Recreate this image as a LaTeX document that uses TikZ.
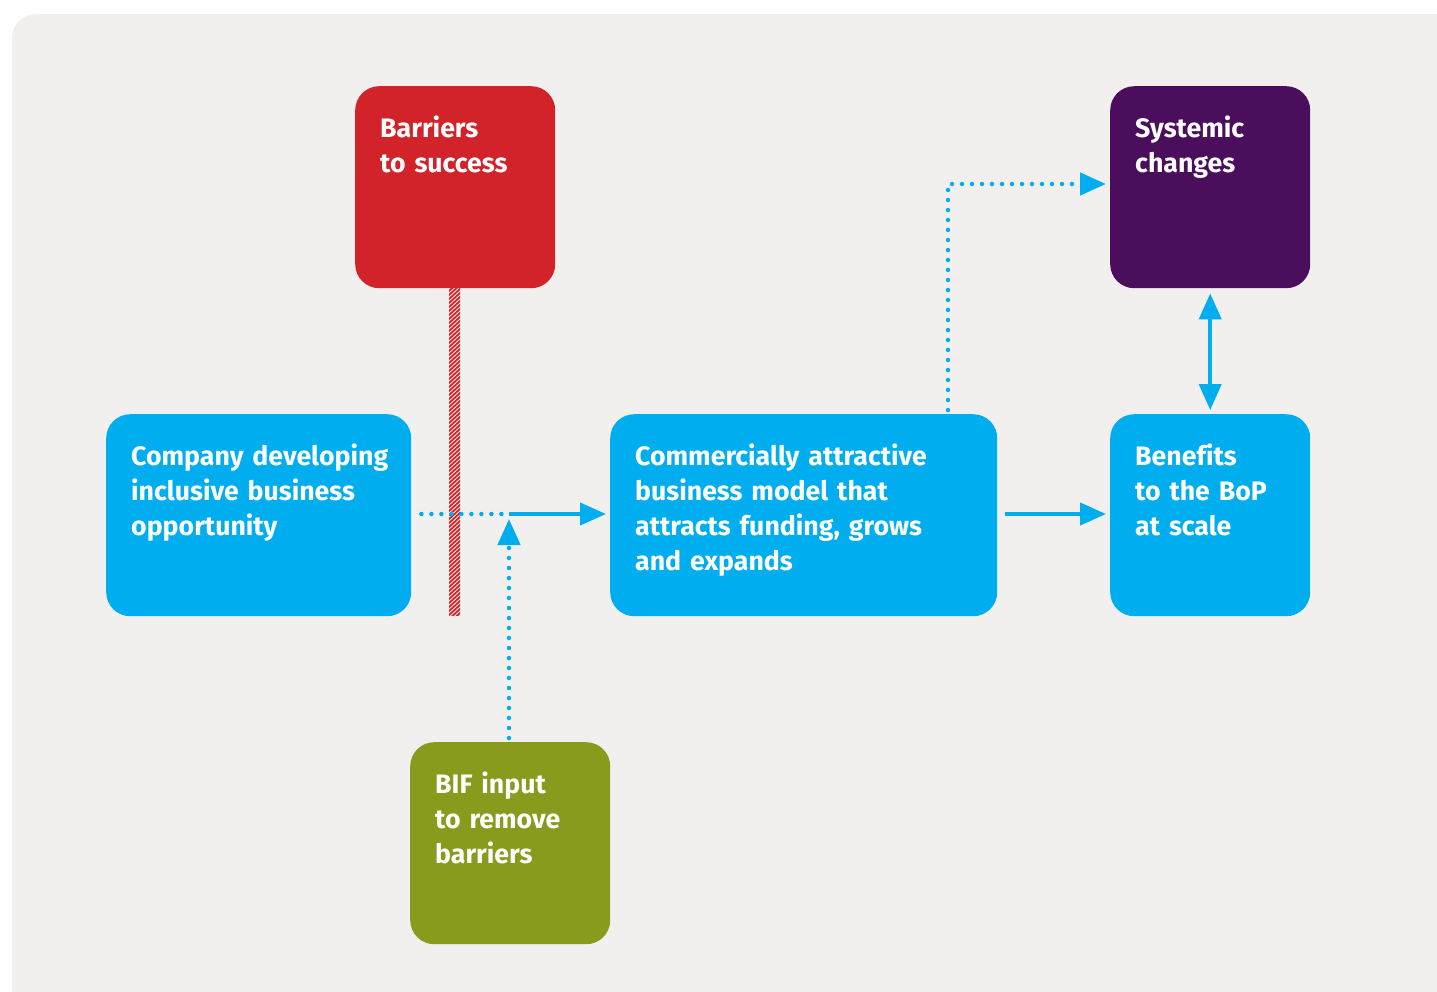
\documentclass[tikz,border=0pt]{standalone}
\usepackage{fontspec}
\setmainfont[Ligatures=NoCommon]{Fira Sans}
\usepackage{xcolor}
\usetikzlibrary{arrows.meta}

\definecolor{bifblue}{HTML}{00AEEF}
\definecolor{bifred}{HTML}{D2232A}
\definecolor{bifpurple}{HTML}{4A0E5C}
\definecolor{bifolive}{HTML}{8A9A1D}
\definecolor{panel}{HTML}{F1F0EE}

\begin{document}
\begin{tikzpicture}[
  x=1pt, y=-1pt,
  every node/.style={font=\fontsize{26.7}{35}\selectfont\bfseries, text=white},
  stagebox/.style={rounded corners=24pt, inner xsep=25pt, inner ysep=0pt,
    anchor=north west, align=left, text height=51pt, text depth=151pt},
  flow/.style={bifblue, line width=4pt, -{Triangle[length=26pt, width=22pt]}},
  dotflow/.style={bifblue, line width=4.5pt, line cap=round,
    dash pattern=on 0pt off 10pt, -{Triangle[length=26pt, width=22pt]}},
]
\useasboundingbox (0,0) rectangle (1437,991);
\fill[white] (0,0) rectangle (1437,991);
\fill[panel, rounded corners=24pt] (12,14) rectangle (1480,1040);

% boxes
\node[stagebox, fill=bifred, text width=150pt] (barriers) at (355,86)
  {Barriers\\to success};
\node[stagebox, fill=bifpurple, text width=150pt] (systemic) at (1110,86)
  {Systemic\\changes};
\node[stagebox, fill=bifblue, text width=255pt] (company) at (106,414)
  {\mbox{Company developing}\\inclusive business\\opportunity};
\node[stagebox, fill=bifblue, text width=337pt] (model) at (610,414)
  {Commercially attractive\\business model that\\attracts funding, grows\\and expands};
\node[stagebox, fill=bifblue, text width=150pt] (benefits) at (1110,414)
  {Benefits\\to the BoP\\at scale};
\node[stagebox, fill=bifolive, text width=150pt] (bif) at (410,742)
  {BIF input\\to remove\\barriers};

% hatched barrier strip
\begin{scope}
  \clip (449,288) rectangle (460,615);
  \foreach \y in {280,284,...,620}
    \draw[bifred, line width=1.8pt] (448,\y+12) -- (461,\y);
\end{scope}

% connectors
\coordinate (join) at (509,514);
\draw[bifblue, line width=4.5pt, line cap=round, dash pattern=on 0pt off 10pt]
  ([xshift=10pt]company.east |- join) -- ([xshift=-4pt]join);
\draw[flow] (join) -- ([xshift=-4pt]model.west |- join);
\draw[dotflow] ([yshift=4pt]bif.north -| join) -- ([yshift=-5pt]join);
\draw[dotflow] ([yshift=4pt]model.north -| 948,0) |- ([xshift=-4pt]systemic.west |- 0,184);
\draw[flow] ([xshift=8pt]model.east |- join) -- ([xshift=-4pt]benefits.west |- join);
\draw[bifblue, line width=4pt, {Triangle[length=26pt, width=22pt]}-{Triangle[length=26pt, width=22pt]}]
  ([yshift=-5pt]systemic.south) -- ([yshift=4pt]benefits.north);
\end{tikzpicture}
\end{document}
